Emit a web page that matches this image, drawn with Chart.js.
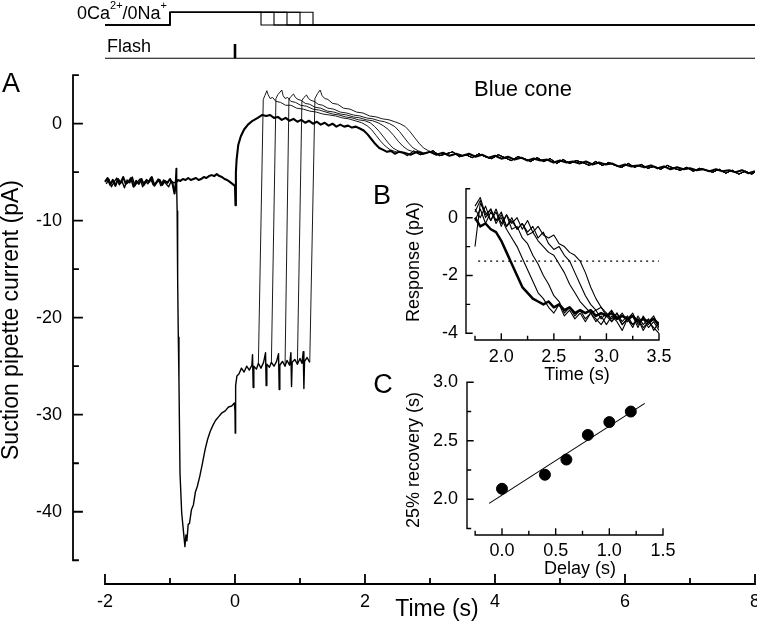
<!DOCTYPE html>
<html>
<head>
<meta charset="utf-8">
<script src="https://cdn.jsdelivr.net/npm/chart.js@4.4.1/dist/chart.umd.min.js"></script>
<style>
  html, body { margin: 0; padding: 0; background: #fff; }
  #wrap { position: relative; width: 757px; height: 626px; }
  #wrap canvas { position: absolute; left: 0; top: 0; }
</style>
</head>
<body>
<div id="wrap">
  <canvas id="main" width="757" height="626"></canvas>
  <canvas id="stim" width="757" height="626"></canvas>
  <canvas id="insetB" width="757" height="626"></canvas>
  <canvas id="insetC" width="757" height="626"></canvas>
</div>
<script>
"use strict";

// ---- Panel A: suction pipette current (pA) vs time (s) ----
// control trace (thick), normal Ringer throughout
const ctrlTime = [
  -2.00, -1.96, -1.92, -1.88, -1.84, -1.80, -1.76, -1.72, -1.68, -1.64, -1.60, -1.56, -1.52, -1.48,
  -1.44, -1.40, -1.36, -1.32, -1.28, -1.24, -1.20, -1.16, -1.12, -1.08, -1.04, -1.00, -0.96,
  -0.93, -0.91, -0.88,
  -0.84, -0.80, -0.76, -0.72, -0.68, -0.64, -0.60, -0.56, -0.52, -0.48, -0.44, -0.40, -0.36, -0.32,
  -0.28, -0.24, -0.20, -0.16, -0.12, -0.08, -0.04,
  0.000, 0.008, 0.014, 0.025, 0.05, 0.09, 0.14, 0.20, 0.27, 0.35, 0.42,
  0.48, 0.54, 0.60, 0.66, 0.72, 0.78, 0.84, 0.90, 0.96, 1.02, 1.08, 1.14, 1.20, 1.26, 1.32, 1.38,
  1.44, 1.50, 1.56, 1.62, 1.68, 1.74, 1.80, 1.86, 1.92, 1.98,
  2.04, 2.10, 2.16, 2.22, 2.28, 2.34, 2.40, 2.46, 2.52
];
const ctrlCurrent = [
  -6.0, -5.6, -6.3, -5.8, -6.4, -5.7, -6.1, -5.5, -6.2, -6.0, -5.6, -6.5, -5.9, -6.2,
  -5.7, -6.3, -5.8, -6.0, -5.5, -6.4, -6.0, -5.8, -6.3, -5.9, -6.1, -5.7, -6.2,
  -7.2, -6.1, -5.8,
  -5.9, -5.7, -5.8, -5.6, -5.8, -5.7, -5.6, -5.8, -5.7, -5.5, -5.6, -5.4, -5.3, -5.4,
  -5.2, -5.4, -5.5, -5.7, -5.8, -6.0, -6.2,
  -6.4, -8.4, -5.0, -3.7, -2.2, -1.3, -0.6, -0.1, 0.3, 0.6, 0.9,
  0.8, 0.9, 0.6, 0.7, 0.4, 0.6, 0.3, 0.5, 0.2, 0.4, 0.1, 0.3, 0.0, 0.2, -0.1, 0.1,
  -0.2, 0.0, -0.3, -0.1, -0.3, -0.2, -0.4, -0.3, -0.5, -0.7,
  -1.1, -1.6, -2.1, -2.5, -2.7, -2.9, -2.8, -3.1, -2.9
];
// common part of the five 0Ca2+/0Na+ traces
const zeroCaTime = [
  -1.98, -1.94, -1.90, -1.86, -1.82, -1.78, -1.74, -1.70, -1.66, -1.62, -1.58, -1.54, -1.50, -1.46,
  -1.42, -1.38, -1.34, -1.30, -1.26, -1.22, -1.18, -1.14, -1.10, -1.06, -1.02, -0.98, -0.94,
  -0.915, -0.905, -0.897, -0.890, -0.882, -0.872, -0.862, -0.846, -0.820, -0.790, -0.770, -0.755,
  -0.740, -0.720, -0.700, -0.670, -0.640, -0.610, -0.580, -0.540, -0.500, -0.460, -0.420, -0.380,
  -0.340, -0.300, -0.250, -0.200, -0.150, -0.100, -0.050, -0.010, 0.000, 0.004, 0.010, 0.030,
  0.06, 0.10, 0.14, 0.18, 0.22, 0.26, 0.27, 0.28, 0.29, 0.33, 0.36, 0.40, 0.44, 0.47, 0.48, 0.49,
  0.53, 0.56, 0.60, 0.64, 0.67, 0.68, 0.69, 0.73, 0.77, 0.80, 0.84, 0.86, 0.87, 0.88, 0.92, 0.96,
  1.00, 1.03, 1.05, 1.06, 1.07, 1.11, 1.15
];
const zeroCaCurrent = [
  -6.2, -5.7, -6.5, -6.0, -5.6, -6.3, -5.9, -6.6, -5.8, -6.1, -5.5, -6.4, -6.0, -5.7,
  -6.5, -5.9, -6.2, -5.6, -6.3, -6.1, -5.7, -6.4, -5.8, -6.2, -6.5, -5.9, -6.1,
  -6.0, -4.6, -6.5, -9.0, -16.0, -22.0, -26.4, -36.0, -40.1, -42.2, -43.6, -42.4,
  -43.0, -41.3, -41.2, -39.8, -39.3, -38.0, -37.4, -36.3, -35.0, -33.6, -32.5, -31.7,
  -31.1, -30.6, -30.2, -29.8, -29.6, -29.2, -29.1, -28.8, -29.6, -31.9, -27.0, -26.0,
  -25.8, -25.2, -25.6, -25.0, -25.4, -24.9, -23.8, -27.2, -25.0, -25.3, -24.7, -25.2, -24.6, -23.6, -27.0, -24.8,
  -25.1, -24.6, -25.0, -24.5, -23.7, -27.4, -24.9, -24.5, -25.0, -24.4, -24.9, -23.6, -27.1, -24.6, -24.3, -24.8,
  -24.2, -24.7, -23.5, -27.3, -24.5, -24.1, -24.6
];
// return to normal Ringer (s) and the recovery that follows on each trace
const returnTimes = [0.37, 0.56, 0.77, 0.96, 1.15];
const recTime1 = [0.435, 0.46, 0.49, 0.51, 0.54, 0.58, 0.63, 0.70, 0.78, 0.86, 0.95, 1.05, 1.15, 1.25, 1.35,
  1.45, 1.55, 1.65, 1.75, 1.85, 1.95, 2.03, 2.10, 2.17, 2.24, 2.31, 2.39, 2.48, 2.57];
const recCur1 = [2.5, 2.9, 3.4, 3.0, 2.6, 2.7, 2.3, 2.2, 1.9, 1.9, 1.6, 1.5, 1.3, 1.2, 1.0,
  0.9, 0.8, 0.6, 0.5, 0.3, 0.1, -0.2, -0.6, -1.2, -1.8, -2.3, -2.7, -2.9, -3.0];
const recTime2 = [0.63, 0.66, 0.72, 0.74, 0.77, 0.81, 0.86, 0.93, 1.01, 1.10, 1.20, 1.30, 1.40, 1.50,
  1.60, 1.70, 1.80, 1.90, 2.00, 2.08, 2.15, 2.22, 2.29, 2.36, 2.43, 2.51, 2.60];
const recCur2 = [2.6, 3.0, 3.47, 2.9, 2.6, 2.7, 2.3, 2.2, 1.9, 1.8, 1.5, 1.4, 1.2, 1.0,
  0.9, 0.7, 0.6, 0.4, 0.3, 0.1, -0.3, -0.8, -1.4, -2.0, -2.5, -2.8, -3.0];
const recTime3 = [0.83, 0.86, 0.90, 0.93, 0.97, 1.02, 1.08, 1.15, 1.23, 1.32, 1.42, 1.52, 1.62,
  1.72, 1.82, 1.92, 2.02, 2.12, 2.20, 2.28, 2.36, 2.44, 2.51, 2.58, 2.66, 2.75];
const recCur3 = [2.5, 2.8, 3.06, 2.7, 2.5, 2.4, 2.1, 2.0, 1.7, 1.6, 1.3, 1.2, 1.0,
  0.9, 0.7, 0.6, 0.4, 0.3, 0.1, -0.2, -0.6, -1.2, -1.8, -2.3, -2.7, -2.9];
const recTime4 = [1.03, 1.06, 1.10, 1.13, 1.17, 1.22, 1.28, 1.35, 1.43, 1.52, 1.62, 1.72, 1.82,
  1.92, 2.02, 2.12, 2.22, 2.30, 2.38, 2.46, 2.53, 2.60, 2.67, 2.74, 2.82, 2.90];
const recCur4 = [2.4, 2.7, 2.96, 2.6, 2.4, 2.3, 2.0, 1.9, 1.6, 1.5, 1.2, 1.1, 0.9,
  0.8, 0.6, 0.5, 0.3, 0.2, 0.0, -0.3, -0.8, -1.4, -2.0, -2.5, -2.8, -3.0];
const recTime5 = [1.23, 1.27, 1.31, 1.34, 1.38, 1.43, 1.50, 1.58, 1.67, 1.77, 1.87, 1.97, 2.07,
  2.17, 2.27, 2.37, 2.46, 2.54, 2.62, 2.69, 2.76, 2.83, 2.90, 2.98, 3.06];
const recCur5 = [2.6, 3.1, 3.47, 2.9, 2.6, 2.5, 2.1, 2.0, 1.6, 1.5, 1.2, 1.1, 0.8,
  0.7, 0.5, 0.4, 0.2, 0.0, -0.3, -0.8, -1.4, -2.0, -2.5, -2.8, -3.0];
// slow drift back to the dark current, shared by all traces
const tailTimeA = [2.6, 2.7, 2.8, 2.9, 3.0, 3.1, 3.2, 3.3, 3.4, 3.5, 3.6, 3.7, 3.8, 3.9, 4.0, 4.1, 4.2, 4.3,
  4.4, 4.5, 4.6, 4.7, 4.8, 4.9, 5.0, 5.1, 5.2, 5.3, 5.4, 5.5, 5.6, 5.7, 5.8, 5.9, 6.0, 6.1, 6.2, 6.3,
  6.4, 6.5, 6.6, 6.7, 6.8, 6.9, 7.0, 7.1, 7.2, 7.3, 7.4, 7.5, 7.6, 7.7, 7.8, 7.9, 8.0];
const tailCurrentA = [-3.0, -3.2, -2.9, -3.1, -2.9, -3.2, -3.0, -3.3, -3.1, -3.3, -3.1, -3.4, -3.2, -3.5,
  -3.3, -3.6, -3.4, -3.7, -3.5, -3.8, -3.6, -3.8, -3.7, -4.0, -3.8, -4.0, -3.9, -4.1, -3.9, -4.2, -4.0,
  -4.2, -4.1, -4.4, -4.2, -4.4, -4.3, -4.5, -4.3, -4.6, -4.4, -4.7, -4.5, -4.7, -4.6, -4.8, -4.7, -4.9,
  -4.7, -4.9, -4.8, -5.0, -4.8, -5.1, -4.9];
const tailTimeB = [2.65, 2.75, 2.85, 2.95, 3.05, 3.15, 3.25, 3.35, 3.45, 3.55, 3.65, 3.75, 3.85, 3.95,
  4.05, 4.15, 4.25, 4.35, 4.45, 4.55, 4.65, 4.75, 4.85, 4.95, 5.05, 5.15, 5.25, 5.35, 5.45, 5.55, 5.65,
  5.75, 5.85, 5.95, 6.05, 6.15, 6.25, 6.35, 6.45, 6.55, 6.65, 6.75, 6.85, 6.95, 7.05, 7.15, 7.25, 7.35,
  7.45, 7.55, 7.65, 7.75, 7.85, 7.95, 8.0];
const tailCurrentB = [-3.3, -2.8, -3.2, -3.0, -2.8, -3.3, -3.1, -2.9, -3.4, -3.2, -3.5, -3.1, -3.4, -3.6,
  -3.2, -3.5, -3.8, -3.4, -3.6, -3.9, -3.5, -3.9, -3.6, -4.1, -3.7, -4.1, -3.8, -4.0, -4.3, -3.9, -4.3,
  -4.0, -4.3, -4.5, -4.1, -4.5, -4.2, -4.6, -4.4, -4.7, -4.3, -4.6, -4.8, -4.5, -4.9, -4.6, -4.8, -5.0,
  -4.7, -5.1, -4.8, -5.2, -4.9, -5.2, -5.0];
const mainXMajor = [-2, 0, 2, 4, 6, 8];
const mainXMinor = [-1, 1, 3, 5, 7];
const mainYMajor = [-40, -30, -20, -10, 0];
const mainYMinor = [-45, -35, -25, -15, -5, 5];

// ---- stimulus protocol ----
const solutionOn = -1.0;
const solutionOff = [0.4, 0.6, 0.8, 1.0, 1.2];
const solutionLevel = [0, 1];   // normal Ringer, 0Ca2+/0Na+
const flashTime = 0;

// ---- Panel B: recovery phase, response (pA) vs time (s) ----
const bTime = [1.75, 1.80, 1.85, 1.90, 1.95, 2.00, 2.05, 2.10, 2.15, 2.20, 2.25, 2.30, 2.35, 2.40, 2.45,
  2.50, 2.55, 2.60, 2.65, 2.70, 2.75, 2.80, 2.85, 2.90, 2.95, 3.00, 3.05, 3.10, 3.15, 3.20, 3.25, 3.30,
  3.35, 3.40, 3.45, 3.50];
const bCtrl = [0.0, -0.3, -0.2, -0.4, -0.5, -0.8, -1.2, -1.6, -2.0, -2.4, -2.6, -2.8, -2.9, -3.0, -2.9,
  -3.1, -3.0, -3.2, -3.1, -3.3, -3.2, -3.3, -3.2, -3.4, -3.3, -3.4, -3.3, -3.5, -3.4, -3.5, -3.4, -3.6,
  -3.5, -3.6, -3.5, -3.7];
const bDelay04 = [0.4, 0.7, 0.1, 0.3, -0.1, 0.0, -0.4, -0.7, -1.0, -1.4, -1.8, -2.2, -2.6, -2.8, -3.1,
  -3.3, -3.0, -3.4, -3.2, -3.5, -3.3, -3.6, -3.3, -3.5, -3.7, -3.4, -3.6, -3.3, -3.7, -3.5, -3.8, -3.4,
  -3.7, -3.5, -3.9, -3.6];
const bDelay06 = [-1.0, 0.5, 0.2, -0.1, 0.3, -0.2, 0.1, -0.4, -0.3, -0.7, -0.9, -1.3, -1.6, -2.0, -2.3,
  -2.7, -2.9, -3.3, -3.1, -3.4, -3.2, -3.5, -3.3, -3.6, -3.4, -3.7, -3.4, -3.6, -3.9, -3.5, -3.7, -3.5,
  -3.8, -3.6, -3.4, -3.8];
const bDelay08 = [0.2, 0.6, 0.0, 0.3, -0.2, 0.1, -0.3, 0.0, -0.4, -0.2, -0.6, -0.5, -0.8, -1.0, -1.2,
  -1.3, -1.6, -1.9, -2.3, -2.6, -2.9, -3.1, -3.3, -3.2, -3.5, -3.3, -3.6, -3.4, -3.7, -3.5, -3.3, -3.7,
  -3.5, -3.8, -3.6, -3.9];
const bDelay10 = [-0.1, 0.3, -0.2, 0.2, -0.1, 0.2, -0.3, -0.1, -0.4, -0.2, -0.5, -0.3, -0.7, -0.5, -0.9,
  -1.1, -1.0, -1.3, -1.5, -1.9, -2.3, -2.7, -3.0, -3.2, -3.1, -3.4, -3.2, -3.5, -3.3, -3.6, -3.4, -3.8,
  -3.4, -3.7, -3.5, -3.8];
const bDelay12 = [0.3, 0.0, 0.4, -0.1, 0.2, -0.3, 0.1, -0.2, 0.0, -0.4, -0.1, -0.5, -0.3, -0.6, -0.7,
  -0.6, -0.9, -1.0, -1.2, -1.3, -1.5, -1.9, -2.4, -2.8, -3.1, -3.3, -3.5, -3.3, -3.6, -3.4, -3.7, -3.5,
  -3.9, -3.6, -3.8, -4.0];
const criterion = -1.5;          // 25% recovery level (dotted)
const criterionSpan = [1.78, 3.5];
const bXMajor = [2.0, 2.5, 3.0, 3.5];
const bXMinor = [1.75, 2.25, 2.75, 3.25];
const bYMajor = [0, -2, -4];
const bYMinor = [1, -1, -3];

// ---- Panel C: 25% recovery time vs delay ----
const delays = [0.0, 0.4, 0.6, 0.8, 1.0, 1.2];
const recovery25 = [2.09, 2.21, 2.34, 2.55, 2.66, 2.75];
const fitDelay = [-0.12, 1.33];
const fitRecovery = [1.965, 2.82];
const cXMajor = [0, 0.5, 1.0, 1.5];
const cXMinor = [-0.25, 0.25, 0.75, 1.25];
const cYMajor = [2.0, 2.5, 3.0];
const cYMinor = [1.75, 2.25, 2.75];

const FONT = "'Liberation Sans', Arial, sans-serif";
const pts = (xs, ys) => xs.map((x, i) => ({ x, y: ys[i] }));
const line = (data, width, extra) => Object.assign({
  data, showLine: true, borderColor: "#000", borderWidth: width,
  pointRadius: 0, borderJoinStyle: "round", fill: false
}, extra || {});

// linear axis with a fixed tick list; labels only on the major ticks
function axis(min, max, major, minor, fmt, pad, fit) {
  return {
    type: "linear", min, max, bounds: "data",
    afterBuildTicks: s => { s.ticks = major.concat(minor).sort((a, b) => a - b).map(value => ({ value })); },
    afterFit: s => { fit(s); s.paddingLeft = s.paddingRight = s.paddingTop = s.paddingBottom = 0; },
    grid: { display: false, drawTicks: false },
    border: { display: false },
    ticks: {
      autoSkip: false, maxRotation: 0, padding: pad, color: "#000",
      font: { family: FONT, size: 18 },
      callback: v => major.includes(v) ? fmt(v) : ""
    }
  };
}

// detached Origin-style axes with inward ticks, plus free text
function frame(spec) {
  return {
    id: "frame",
    afterDraw(chart) {
      const { ctx, chartArea: a } = chart;
      const xs = chart.scales.x, ys = chart.scales.y;
      ctx.save();
      ctx.strokeStyle = "#000";
      ctx.lineWidth = spec.lw;
      ctx.lineCap = "square";
      ctx.beginPath();
      const yb = a.bottom, xl = a.left;
      ctx.moveTo(xs.getPixelForValue(spec.xSpan[0]), yb);
      ctx.lineTo(xs.getPixelForValue(spec.xSpan[1]), yb);
      spec.xMajor.forEach(v => { const p = xs.getPixelForValue(v); ctx.moveTo(p, yb); ctx.lineTo(p, yb - spec.major); });
      spec.xMinor.forEach(v => { const p = xs.getPixelForValue(v); ctx.moveTo(p, yb); ctx.lineTo(p, yb - spec.minor); });
      ctx.moveTo(xl, ys.getPixelForValue(spec.ySpan[0]));
      ctx.lineTo(xl, ys.getPixelForValue(spec.ySpan[1]));
      spec.yMajor.forEach(v => { const p = ys.getPixelForValue(v); ctx.moveTo(xl, p); ctx.lineTo(xl + spec.major, p); });
      spec.yMinor.forEach(v => { const p = ys.getPixelForValue(v); ctx.moveTo(xl, p); ctx.lineTo(xl + spec.minor, p); });
      ctx.stroke();
      ctx.fillStyle = "#000";
      ctx.textAlign = "center";
      ctx.textBaseline = "middle";
      spec.texts.forEach(t => {
        ctx.save();
        ctx.font = t.size + "px " + FONT;
        ctx.translate(t.x, t.y);
        if (t.rot) ctx.rotate(-Math.PI / 2);
        ctx.fillText(t.s, 0, 0);
        ctx.restore();
      });
      ctx.restore();
    }
  };
}

const base = {
  responsive: false, animation: false, devicePixelRatio: 1,
  plugins: { legend: { display: false }, tooltip: { enabled: false } },
  elements: { line: { tension: 0 } }
};

// ---------- main panel A ----------
const recTimes = [recTime1, recTime2, recTime3, recTime4, recTime5];
const recCurs = [recCur1, recCur2, recCur3, recCur4, recCur5];
const zeroCaTrace = pts(zeroCaTime, zeroCaCurrent);
const thinTraces = returnTimes.map((tr, k) => {
  const pre = zeroCaTrace.filter(p => p.x <= tr);
  const last = recTimes[k][recTimes[k].length - 1];
  const tail = pts(tailTimeB, tailCurrentB).filter(p => p.x > last);
  return [pre[pre.length - 1]].concat(pts(recTimes[k], recCurs[k]), tail);
});
const ctrlTrace = pts(ctrlTime, ctrlCurrent).concat(pts(tailTimeA, tailCurrentA));

new Chart(document.getElementById("main"), {
  type: "scatter",
  data: {
    datasets: [line(ctrlTrace, 2.1), line(zeroCaTrace, 1.4)].concat(thinTraces.map(d => line(d, 0.9)))
  },
  options: Object.assign({}, base, {
    layout: { padding: { left: 0, top: 75.2, right: 2, bottom: 0 } },
    scales: {
      x: axis(-2.492, 8, mainXMajor, mainXMinor, v => String(v), 7, s => { s.height = 42; }),
      y: axis(-47.45, 5, mainYMajor, mainYMinor, v => String(v), 11, s => { s.width = 73; })
    }
  }),
  plugins: [frame({
    lw: 1.8, major: 9, minor: 5,
    xSpan: [-2, 8], ySpan: [5, -45],
    xMajor: mainXMajor, xMinor: mainXMinor, yMajor: mainYMajor, yMinor: mainYMinor,
    texts: [
      { s: "A", x: 11, y: 85, size: 27 },
      { s: "Blue cone", x: 523, y: 90, size: 22 },
      { s: "Suction pipette current (pA)", x: 12, y: 320, size: 23, rot: true },
      { s: "Time (s)", x: 437, y: 610, size: 23 }
    ]
  })]
});

// ---------- stimulus protocol (top) ----------
const solutionTraces = solutionOff.map(off => [
  { x: -2, y: solutionLevel[0] }, { x: solutionOn, y: solutionLevel[0] },
  { x: solutionOn, y: solutionLevel[1] }, { x: off, y: solutionLevel[1] },
  { x: off, y: solutionLevel[0] }, { x: 8, y: solutionLevel[0] }
]);
new Chart(document.getElementById("stim"), {
  type: "scatter",
  data: {
    datasets: solutionTraces.map(d => line(d, 1.1, { yAxisID: "ys", borderJoinStyle: "miter" })).concat([
      line([{ x: -2, y: 0 }, { x: 8, y: 0 }], 1.1, { yAxisID: "yf" }),
      line([{ x: flashTime, y: 0 }, { x: flashTime, y: 1 }], 2.6, { yAxisID: "yf" })
    ])
  },
  options: Object.assign({}, base, {
    layout: { padding: { left: 105, top: 5, right: 2, bottom: 561 } },
    scales: {
      x: { type: "linear", min: -2, max: 8, display: false },
      ys: { type: "linear", min: -3.15, max: 1.575, display: false },
      yf: { type: "linear", min: -0.469, max: 3.727, display: false }
    }
  }),
  plugins: [{
    id: "stimText",
    afterDraw(chart) {
      const ctx = chart.ctx;
      ctx.save();
      ctx.fillStyle = "#000";
      ctx.textBaseline = "alphabetic";
      const big = "18px " + FONT, small = "11px " + FONT;
      let x = 77;
      [["0Ca", big, 19], ["2+", small, 9], ["/0Na", big, 19], ["+", small, 9]].forEach(([s, f, y]) => {
        ctx.font = f;
        ctx.fillText(s, x, y);
        x += ctx.measureText(s).width;
      });
      ctx.font = big;
      ctx.fillText("Flash", 107, 52);
      ctx.restore();
    }
  }]
});

// ---------- inset B ----------
const bSeries = [bCtrl, bDelay04, bDelay06, bDelay08, bDelay10, bDelay12];
new Chart(document.getElementById("insetB"), {
  type: "scatter",
  data: {
    datasets: bSeries.map((v, i) => line(pts(bTime, v), i === 0 ? 2.5 : 1.1)).concat([
      line(criterionSpan.map(x => ({ x, y: criterion })), 1.3, { borderDash: [2, 4] })
    ])
  },
  options: Object.assign({}, base, {
    layout: { padding: { left: 406, top: 188.8, right: 98, bottom: 246 } },
    scales: {
      x: axis(1.6644, 3.5, bXMajor, bXMinor, v => v.toFixed(1), 6, s => { s.height = 40; }),
      y: axis(-4.232, 1.0, bYMajor, bYMinor, v => String(v), 8, s => { s.width = 60; })
    }
  }),
  plugins: [frame({
    lw: 1.4, major: 6, minor: 3.5,
    xSpan: [1.75, 3.5], ySpan: [1, -4],
    xMajor: bXMajor, xMinor: bXMinor, yMajor: bYMajor, yMinor: bYMinor,
    texts: [
      { s: "B", x: 382, y: 197, size: 27 },
      { s: "Response (pA)", x: 414, y: 262, size: 18, rot: true },
      { s: "Time (s)", x: 577, y: 375, size: 18 }
    ]
  })]
});

// ---------- inset C ----------
new Chart(document.getElementById("insetC"), {
  type: "scatter",
  data: {
    datasets: [
      { data: pts(delays, recovery25), pointRadius: 5.5, pointBackgroundColor: "#000", pointBorderColor: "#000", showLine: false },
      line(pts(fitDelay, fitRecovery), 1.1)
    ]
  },
  options: Object.assign({}, base, {
    layout: { padding: { left: 407, top: 382.3, right: 94, bottom: 51 } },
    scales: {
      x: axis(-0.326, 1.5, cXMajor, cXMinor, v => v.toFixed(1), 5, s => { s.height = 40; }),
      y: axis(1.695, 3.0, cYMajor, cYMinor, v => v.toFixed(1), 9, s => { s.width = 60; })
    }
  }),
  plugins: [frame({
    lw: 1.4, major: 6, minor: 3.5,
    xSpan: [-0.25, 1.5], ySpan: [3.0, 1.75],
    xMajor: cXMajor, xMinor: cXMinor, yMajor: cYMajor, yMinor: cYMinor,
    texts: [
      { s: "C", x: 383, y: 386, size: 27 },
      { s: "25% recovery (s)", x: 414, y: 460, size: 18, rot: true },
      { s: "Delay (s)", x: 580, y: 569, size: 18 }
    ]
  })]
});
</script>
</body>
</html>
